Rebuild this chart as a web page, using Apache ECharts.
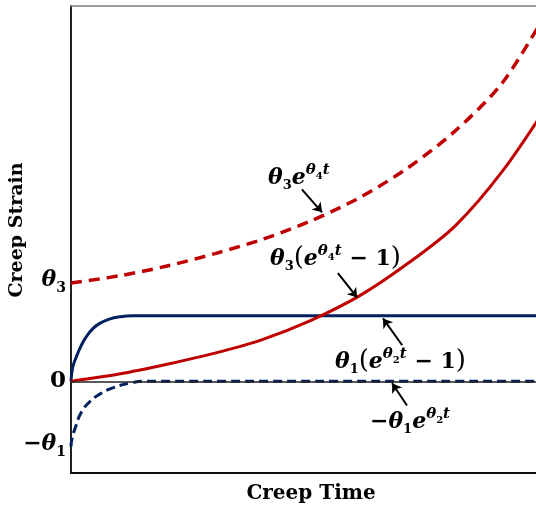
<!DOCTYPE html>
<html>
<head>
<meta charset="utf-8">
<script src="https://cdn.jsdelivr.net/npm/echarts@6/dist/echarts.min.js"></script>
<style>
  html, body { margin: 0; padding: 0; background: #fff; }
  #chart { width: 536px; height: 509px; }
</style>
</head>
<body>
<div id="chart"></div>
<script>
// Tertiary creep (red) and primary creep (blue) strain components vs. time
const timeRed = [0, 1, 2, 3, 4, 5, 6, 7, 8, 9, 10];
const redStrain = [0, 0.11, 0.26, 0.43, 0.64, 0.93, 1.30, 1.79, 2.37, 3.22, 4.3];     // θ3(e^{θ4 t} − 1)
const redExp = [1.5, 1.61, 1.76, 1.95, 2.17, 2.45, 2.80, 3.25, 3.82, 4.57, 5.75];     // θ3 e^{θ4 t}

const timeBlue = [0, 0.035, 0.104, 0.21, 0.31, 0.45, 0.59, 0.80, 1.01, 1.29, 10];
const blueStrain = [0, 0.21, 0.36, 0.54, 0.67, 0.80, 0.88, 0.95, 0.985, 1.0, 1.0];   // θ1(e^{θ2 t} − 1)

const timeBlueExp = [0, 0.02, 0.104, 0.21, 0.38, 0.59, 0.87, 1.22, 1.56, 10];
const blueExp = [-1, -0.88, -0.68, -0.48, -0.32, -0.2, -0.1, -0.03, 0, 0];           // −θ1 e^{θ2 t}

// y-axis tick values: −θ1, 0, θ3
const yTicks = [-1, 0, 1.5];
const yTickLabels = ['{M|−}{T|θ}{s|1}', '{Z|0}', '{T|θ}{s|3}'];

// Pointer arrows [from, to] in data coordinates
const arrows = [
  [[4.81, 2.93], [5.23, 2.58]],
  [[5.56, 1.65], [5.96, 1.28]],
  [[6.90, 0.55], [6.50, 0.96]],
  [[7.00, -0.37], [6.69, -0.03]]
];

const RED = '#C00000';
const NAVY = '#002060';
const SERIF = '"DejaVu Serif", serif';

const pairs = (xs, ys) => xs.map((x, i) => [x, ys[i]]);

const mathRich = {
  T: { fontFamily: SERIF, fontStyle: 'italic', fontWeight: 'bold', fontSize: 22, color: '#000', verticalAlign: 'bottom', padding: [6, 0, 5, 0] },
  s: { fontFamily: SERIF, fontWeight: 'bold', fontSize: 13, color: '#000', verticalAlign: 'bottom', padding: [0, 0, 2, 0] },
  U: { fontFamily: SERIF, fontStyle: 'italic', fontWeight: 'bold', fontSize: 15, color: '#000', verticalAlign: 'top', padding: [2, 0, 0, 0] },
  u: { fontFamily: SERIF, fontWeight: 'bold', fontSize: 10, color: '#000', verticalAlign: 'top', padding: [10, 0, 0, 0] },
  P: { fontFamily: SERIF, fontSize: 26, color: '#000', verticalAlign: 'bottom', padding: [0, 0, 4, 0] },
  M: { fontFamily: SERIF, fontWeight: 'bold', fontSize: 22, color: '#000', verticalAlign: 'bottom', padding: [0, 0, 5, 0] }
};

const axisRich = {
  T: { fontFamily: SERIF, fontStyle: 'italic', fontWeight: 'bold', fontSize: 22, color: '#000', verticalAlign: 'bottom', padding: [0, 0, 5, 0] },
  s: { fontFamily: SERIF, fontWeight: 'bold', fontSize: 14, color: '#000', verticalAlign: 'bottom', padding: [0, 0, 1, 0] },
  M: { fontFamily: SERIF, fontWeight: 'bold', fontSize: 22, color: '#000', verticalAlign: 'bottom', padding: [0, 0, 5, 0] },
  Z: { fontFamily: SERIF, fontWeight: 'bold', fontSize: 23, color: '#000' }
};

const chart = echarts.init(document.getElementById('chart'), null, { renderer: 'canvas' });

chart.setOption({
  animation: false,
  backgroundColor: '#fff',
  // plot area runs past the right edge of the canvas
  grid: { left: 71, width: 480, top: 6, height: 467, outerBoundsMode: 'none', containLabel: false },
  xAxis: [{
    type: 'value', min: 0, max: 10, position: 'bottom',
    axisLine: { onZero: false, lineStyle: { color: '#111', width: 2 } },
    axisTick: { show: false }, axisLabel: { show: false }, splitLine: { show: false },
    name: 'Creep Time', nameLocation: 'middle', nameGap: 11,
    nameTextStyle: { fontFamily: SERIF, fontWeight: 'bold', fontSize: 20, color: '#000' }
  }, {
    type: 'value', min: 0, max: 10, position: 'top',
    axisLine: { onZero: false, lineStyle: { color: '#808080', width: 1.5 } },
    axisTick: { show: false }, axisLabel: { show: false }, splitLine: { show: false }
  }],
  yAxis: {
    type: 'value', min: -1.4, max: 5.73,
    axisLine: { show: true, onZero: false, lineStyle: { color: '#222', width: 2 } },
    axisTick: { show: false },
    splitLine: { show: false },
    axisLabel: {
      customValues: yTicks,
      margin: 5,
      formatter: v => yTickLabels[yTicks.indexOf(v)],
      rich: axisRich
    }
  },
  graphic: [
    {
      type: 'text', x: 17, y: 230, rotation: Math.PI / 2,
      style: { text: 'Creep Strain', fontFamily: SERIF, fontWeight: 'bold', fontSize: 19, fill: '#000', align: 'center', verticalAlign: 'middle' }
    },
    { type: 'text', x: 268, y: 161, style: { text: '{T|θ}{s|3}{T|e}{U|θ}{u|4}{U|t}', rich: mathRich, align: 'left', verticalAlign: 'top' } },
    { type: 'text', x: 270, y: 242, style: { text: '{T|θ}{s|3}{P|(}{T|e}{U|θ}{u|4}{U|t}{M| − 1}{P|)}', rich: mathRich, align: 'left', verticalAlign: 'top' } },
    { type: 'text', x: 335, y: 345, style: { text: '{T|θ}{s|1}{P|(}{T|e}{U|θ}{u|2}{U|t}{M| − 1}{P|)}', rich: mathRich, align: 'left', verticalAlign: 'top' } },
    { type: 'text', x: 370, y: 405, style: { text: '{M|−}{T|θ}{s|1}{T|e}{U|θ}{u|2}{U|t}', rich: mathRich, align: 'left', verticalAlign: 'top' } }
  ],
  series: [
    {
      // zero strain reference line
      type: 'line', data: [], z: 1,
      markLine: {
        silent: true, symbol: ['none', 'none'], label: { show: false },
        lineStyle: { color: '#222', width: 1.5, type: 'solid' },
        data: [{ yAxis: 0 }]
      }
    },
    {
      name: '−θ1 e^(θ2 t)', type: 'line', z: 3, data: pairs(timeBlueExp, blueExp),
      smooth: 0.5, showSymbol: false,
      lineStyle: { color: NAVY, width: 3, type: [9, 5] }
    },
    {
      name: 'θ1(e^(θ2 t) − 1)', type: 'line', z: 3, data: pairs(timeBlue, blueStrain),
      smooth: 0.5, showSymbol: false,
      lineStyle: { color: NAVY, width: 3 }
    },
    {
      name: 'θ3(e^(θ4 t) − 1)', type: 'line', z: 4, data: pairs(timeRed, redStrain),
      smooth: 0.3, showSymbol: false,
      lineStyle: { color: RED, width: 3 }
    },
    {
      name: 'θ3 e^(θ4 t)', type: 'line', z: 4, data: pairs(timeRed, redExp),
      smooth: 0.3, showSymbol: false,
      lineStyle: { color: RED, width: 3.5, type: [11, 7] }
    },
    {
      // pointer arrows
      type: 'line', data: [], z: 5,
      markLine: {
        silent: true, symbol: ['none', 'arrow'], symbolSize: 9, label: { show: false },
        lineStyle: { color: '#000', width: 2, type: 'solid' },
        data: arrows.map(a => [{ coord: a[0] }, { coord: a[1] }])
      }
    }
  ]
});
</script>
</body>
</html>
